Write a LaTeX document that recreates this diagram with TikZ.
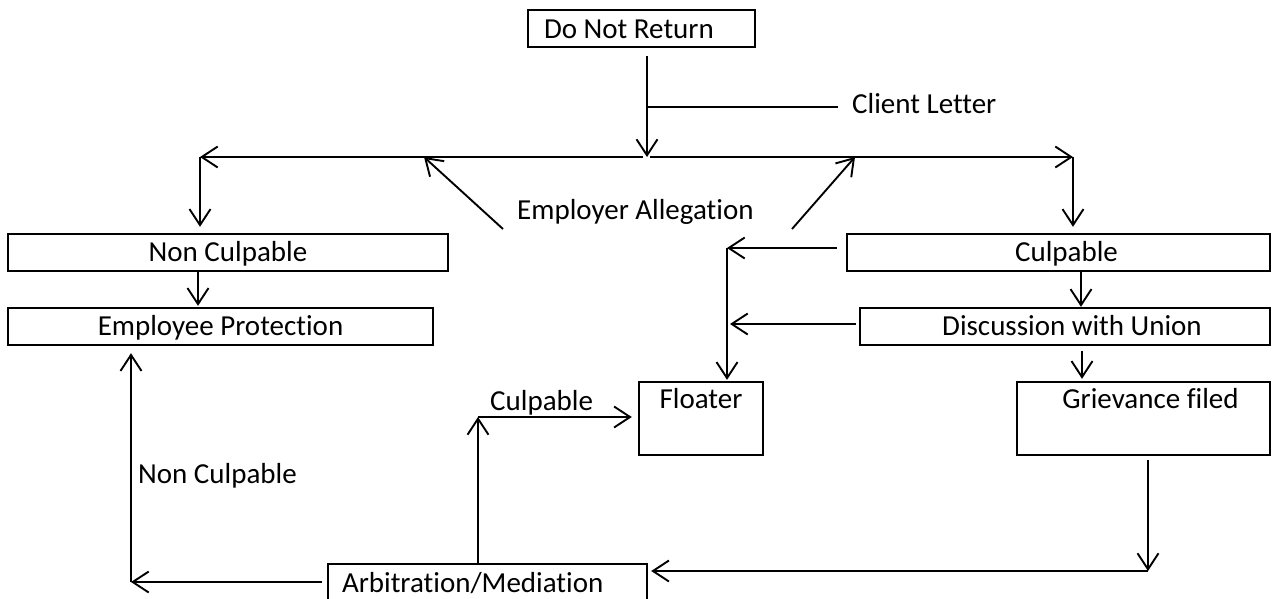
\documentclass[tikz,border=0pt]{standalone}
\usepackage{fontspec}
\setmainfont{Carlito}[Ligatures=NoCommon]
\usetikzlibrary{arrows.meta}
\begin{document}
\begin{tikzpicture}[x=1pt,y=-1pt,
  txt/.style={font=\fontsize{29}{34}\selectfont, text height=18.5pt, text depth=0pt},
  box/.style={txt, draw, line width=2.4pt, inner sep=0pt},
  lbl/.style={txt, inner sep=0pt, anchor=west},
  ln/.style={line width=1.9pt},
  arr/.style={ln, -{Straight Barb[length=16pt,width=21pt]}}]
\useasboundingbox (0,0) rectangle (1280,598);
% boxes
\node[box, minimum width=227pt, minimum height=37pt] (dnr) at (641.5,28.5) {};
\node[txt, anchor=west, inner sep=0pt] (dnrt) at ([xshift=17pt,yshift=-1pt]dnr.west) {Do Not Return};
\node[box, minimum width=440pt, minimum height=37pt] (nc) at (228,252.5) {Non Culpable};
\node[box, minimum width=425pt, minimum height=37pt] (ep) at (220.5,326.5) {Employee Protection};
\node[box, minimum width=423pt, minimum height=37pt] (cul) at (1058.5,252.5) {};
\node[txt, inner sep=0pt] (cult) at ([xshift=8pt]cul.center) {Culpable};
\node[box, minimum width=410pt, minimum height=37pt] (dwu) at (1065,326.5) {};
\node[txt, inner sep=0pt] (dwut) at ([xshift=7pt]dwu.center) {Discussion with Union};
\node[box, minimum width=124pt, minimum height=73pt] (fl) at (701,418.5) {};
\node[box, minimum width=253pt, minimum height=73pt] (gf) at (1143.5,418.5) {};
\node[txt, anchor=base, inner sep=0pt] (flt) at ([yshift=-28pt]fl.north) {Floater};
\node[txt, anchor=base, inner sep=0pt] (gft) at ([xshift=7pt,yshift=-28pt]gf.north) {Grievance filed};
\node[box, minimum width=319pt, minimum height=39pt] (am) at (487.5,583.5) {};
\node[txt, anchor=west, inner sep=0pt] (amt) at ([xshift=15pt]am.west) {Arbitration/Mediation};
% free labels
\node[lbl] (cl) at (852,104.5) {Client Letter};
\node[lbl] (ea) at (517,210) {Employer Allegation};
\node[lbl] (ncl) at (138,474) {Non Culpable};
\node[lbl] (cll) at (490,401) {Culpable};
% coordinates
\coordinate (j) at (647,157);
\coordinate (cj) at (647,107);
\coordinate (lc) at (200,157);
\coordinate (rc) at (1073,157);
\coordinate (t1) at (424,157);
\coordinate (s1) at (503,229);
\coordinate (t2) at (855,157);
\coordinate (s2) at (792,229);
\coordinate (fc) at (727,248);
\coordinate (gc) at (1148,571);
\coordinate (ac) at (131,582);
\coordinate (uc) at (478,417);
\coordinate (xa) at (198,0);
\coordinate (xb) at (1081,0);
\coordinate (xc) at (1082,0);
% connectors
\draw[arr] (dnr.south -| j) ++(0,8) -- (j);
\draw[ln] (cj) -- ([xshift=-14pt]cl.west |- cj);
\draw[arr] ([xshift=-4pt]j) -- (lc);
\draw[arr] (lc) -- ([yshift=6pt]nc.north -| lc);
\draw[arr] ([xshift=3pt]j) -- (rc);
\draw[arr] (rc) -- ([yshift=6pt]cul.north -| rc);
\draw[arr] (s1) -- (t1);
\draw[arr] (s2) -- (t2);
\draw[arr] (nc.south -| xa) -- ([yshift=1pt]ep.north -| xa);
\draw[arr] (cul.south -| xb) -- (dwu.north -| xb);
\draw[arr] ([yshift=-5pt]dwu.south -| xc) -- ([yshift=2pt]gf.north -| xc);
\draw[arr] ([xshift=-9pt,yshift=4.5pt]cul.west) -- (fc);
\draw[arr] (fc) -- ([yshift=1pt]fl.north -| fc);
\draw[arr] ([xshift=-3pt,yshift=2.5pt]dwu.west) -- ([xshift=3pt,yshift=2.5pt]fc |- dwu.west);
\draw[arr] ([yshift=-4pt]gf.south -| gc) -- (gc);
\draw[arr] (gc) -- ([xshift=3pt]am.north east |- gc);
\draw[arr] ([xshift=-5pt]am.north west |- ac) -- (ac);
\draw[arr] (ac) -- ([yshift=-7pt]ep.south -| ac);
\draw[arr] (am.north -| uc) -- (uc);
\draw[arr] (uc) -- ([xshift=-6pt]fl.west |- uc);
\end{tikzpicture}
\end{document}
